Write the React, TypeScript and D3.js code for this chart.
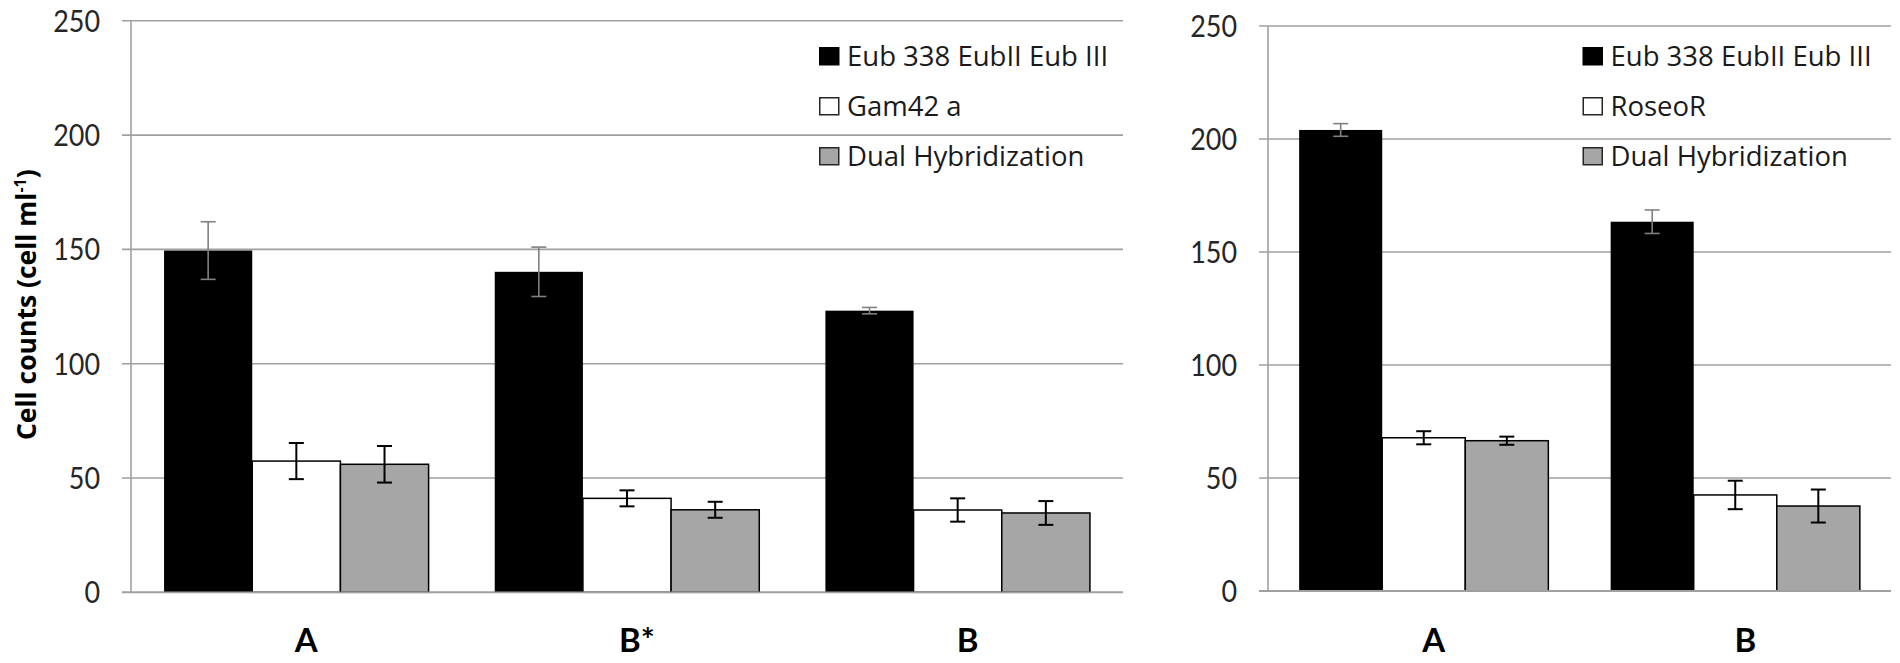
import React from 'react';
import { scaleBand, scaleLinear } from 'd3';

// left panel: Gam42 a probe
const leftCategories = ['A', 'B*', 'B'];
const leftSeries = ['Eub 338 EubII Eub III', 'Gam42 a', 'Dual Hybridization'];
const leftEub = [149.5, 140.2, 123.2];
const leftEubErr = [12.6, 10.8, 1.4];
const leftGam = [57.4, 41.1, 36.0];
const leftGamErr = [7.9, 3.5, 5.1];
const leftDual = [56.0, 36.1, 34.7];
const leftDualErr = [8.0, 3.5, 5.2];

// right panel: RoseoR probe
const rightCategories = ['A', 'B'];
const rightSeries = ['Eub 338 EubII Eub III', 'RoseoR', 'Dual Hybridization'];
const rightEub = [204.0, 163.4];
const rightEubErr = [2.8, 5.2];
const rightRoseo = [67.8, 42.5];
const rightRoseoErr = [2.9, 6.3];
const rightDual = [66.5, 37.6];
const rightDualErr = [1.8, 7.3];

const yDomain = [0, 250];
const fills = ['#000000', '#ffffff', '#a6a6a6'];
const gridColor = '#a0a0a0';
const font = 'Lato, "Open Sans", sans-serif';
const wideFont = '"Open Sans", Lato, sans-serif';

interface PanelProps {
  categories: string[];
  series: string[];
  values: number[][];
  errors: number[][];
  x0: number;
  x1: number;
  yTop: number;
  yBottom: number;
  legendX: number;
}

const Panel = ({ categories, series, values, errors, x0, x1, yTop, yBottom, legendX }: PanelProps) => {
  const x = scaleBand<string>().domain(categories).range([x0, x1]).paddingInner(0.2).paddingOuter(0.1);
  const xs = scaleBand<string>().domain(series).range([0, x.bandwidth()]);
  const y = scaleLinear().domain(yDomain).range([yBottom, yTop]);
  const ticks = y.ticks(5);

  return (
    <g>
      {/* gridlines + tick marks */}
      {ticks.map((t) => (
        <line key={'g' + t} x1={x0 - 9} x2={x1} y1={y(t)} y2={y(t)} stroke={gridColor} strokeWidth={1.6} />
      ))}
      {ticks.map((t) => (
        <text
          key={'t' + t}
          x={x0 - 31}
          y={y(t)}
          dy="0.36em"
          textAnchor="end"
          fontSize={30}
          fontFamily={font}
          fill="#262626"
          textLength={String(t).length * 15.6}
          lengthAdjust="spacingAndGlyphs"
        >
          {t}
        </text>
      ))}

      {/* bars */}
      {series.map((s, si) =>
        categories.map((c, ci) => (
          <rect
            key={s + c}
            x={(x(c) ?? 0) + (xs(s) ?? 0)}
            y={y(values[si][ci])}
            width={xs.bandwidth()}
            height={yBottom - y(values[si][ci])}
            fill={fills[si]}
            stroke={si === 0 ? 'none' : '#000'}
            strokeWidth={1.5}
          />
        ))
      )}

      {/* error bars */}
      {series.map((s, si) =>
        categories.map((c, ci) => {
          const cx = (x(c) ?? 0) + (xs(s) ?? 0) + xs.bandwidth() / 2;
          const hi = y(values[si][ci] + errors[si][ci]);
          const lo = y(values[si][ci] - errors[si][ci]);
          const col = si === 0 ? '#808080' : '#000';
          const w = si === 0 ? 1.6 : 2;
          return (
            <g key={'e' + s + c} stroke={col} strokeWidth={w}>
              <line x1={cx} x2={cx} y1={hi} y2={lo} />
              <line x1={cx - 7.5} x2={cx + 7.5} y1={hi} y2={hi} />
              <line x1={cx - 7.5} x2={cx + 7.5} y1={lo} y2={lo} />
            </g>
          );
        })
      )}

      {/* axes */}
      <line x1={x0} x2={x0} y1={yTop} y2={yBottom} stroke={gridColor} strokeWidth={1.6} />
      <line x1={x0 - 9} x2={x1} y1={yBottom} y2={yBottom} stroke={gridColor} strokeWidth={1.8} />

      {categories.map((c) => (
        <text
          key={'c' + c}
          x={(x(c) ?? 0) + x.bandwidth() / 2 + 10}
          y={652}
          textAnchor="middle"
          fontSize={33}
          fontWeight="bold"
          fontFamily={font}
          fill="#000"
        >
          {c}
        </text>
      ))}

      {/* legend */}
      {series.map((s, si) => (
        <g key={'l' + s} transform={`translate(${legendX},${47 + si * 50})`}>
          <rect
            x={0.75}
            y={0.75}
            width={19}
            height={17}
            fill={fills[si]}
            stroke={si === 0 ? '#000' : '#262626'}
            strokeWidth={1.5}
          />
          <text x={28} y={18.5} fontSize={27.5} fontFamily={wideFont} fill="#1a1a1a">
            {s}
          </text>
        </g>
      ))}
    </g>
  );
};

const App = () => {
  return (
    <svg
      width={1900}
      height={663}
      style={{ position: 'absolute', left: 0, top: 0, background: '#fff' }}
    >
      <rect width={1900} height={663} fill="#fff" />
      <Panel
        categories={leftCategories}
        series={leftSeries}
        values={[leftEub, leftGam, leftDual]}
        errors={[leftEubErr, leftGamErr, leftDualErr]}
        x0={131}
        x1={1123}
        yTop={20.8}
        yBottom={592.3}
        legendX={819}
      />
      <Panel
        categories={rightCategories}
        series={rightSeries}
        values={[rightEub, rightRoseo, rightDual]}
        errors={[rightEubErr, rightRoseoErr, rightDualErr]}
        x0={1268}
        x1={1891}
        yTop={26}
        yBottom={591}
        legendX={1582.5}
      />
      <text
        transform="translate(36,304.7) rotate(-90)"
        textAnchor="middle"
        fontSize={26.5}
        fontWeight="bold"
        fontFamily={wideFont}
        fill="#000"
      >
        Cell counts (cell ml
        <tspan fontSize={16} dy={-10}>
          -1
        </tspan>
        <tspan dy={10}>)</tspan>
      </text>
    </svg>
  );
};

export default App;
